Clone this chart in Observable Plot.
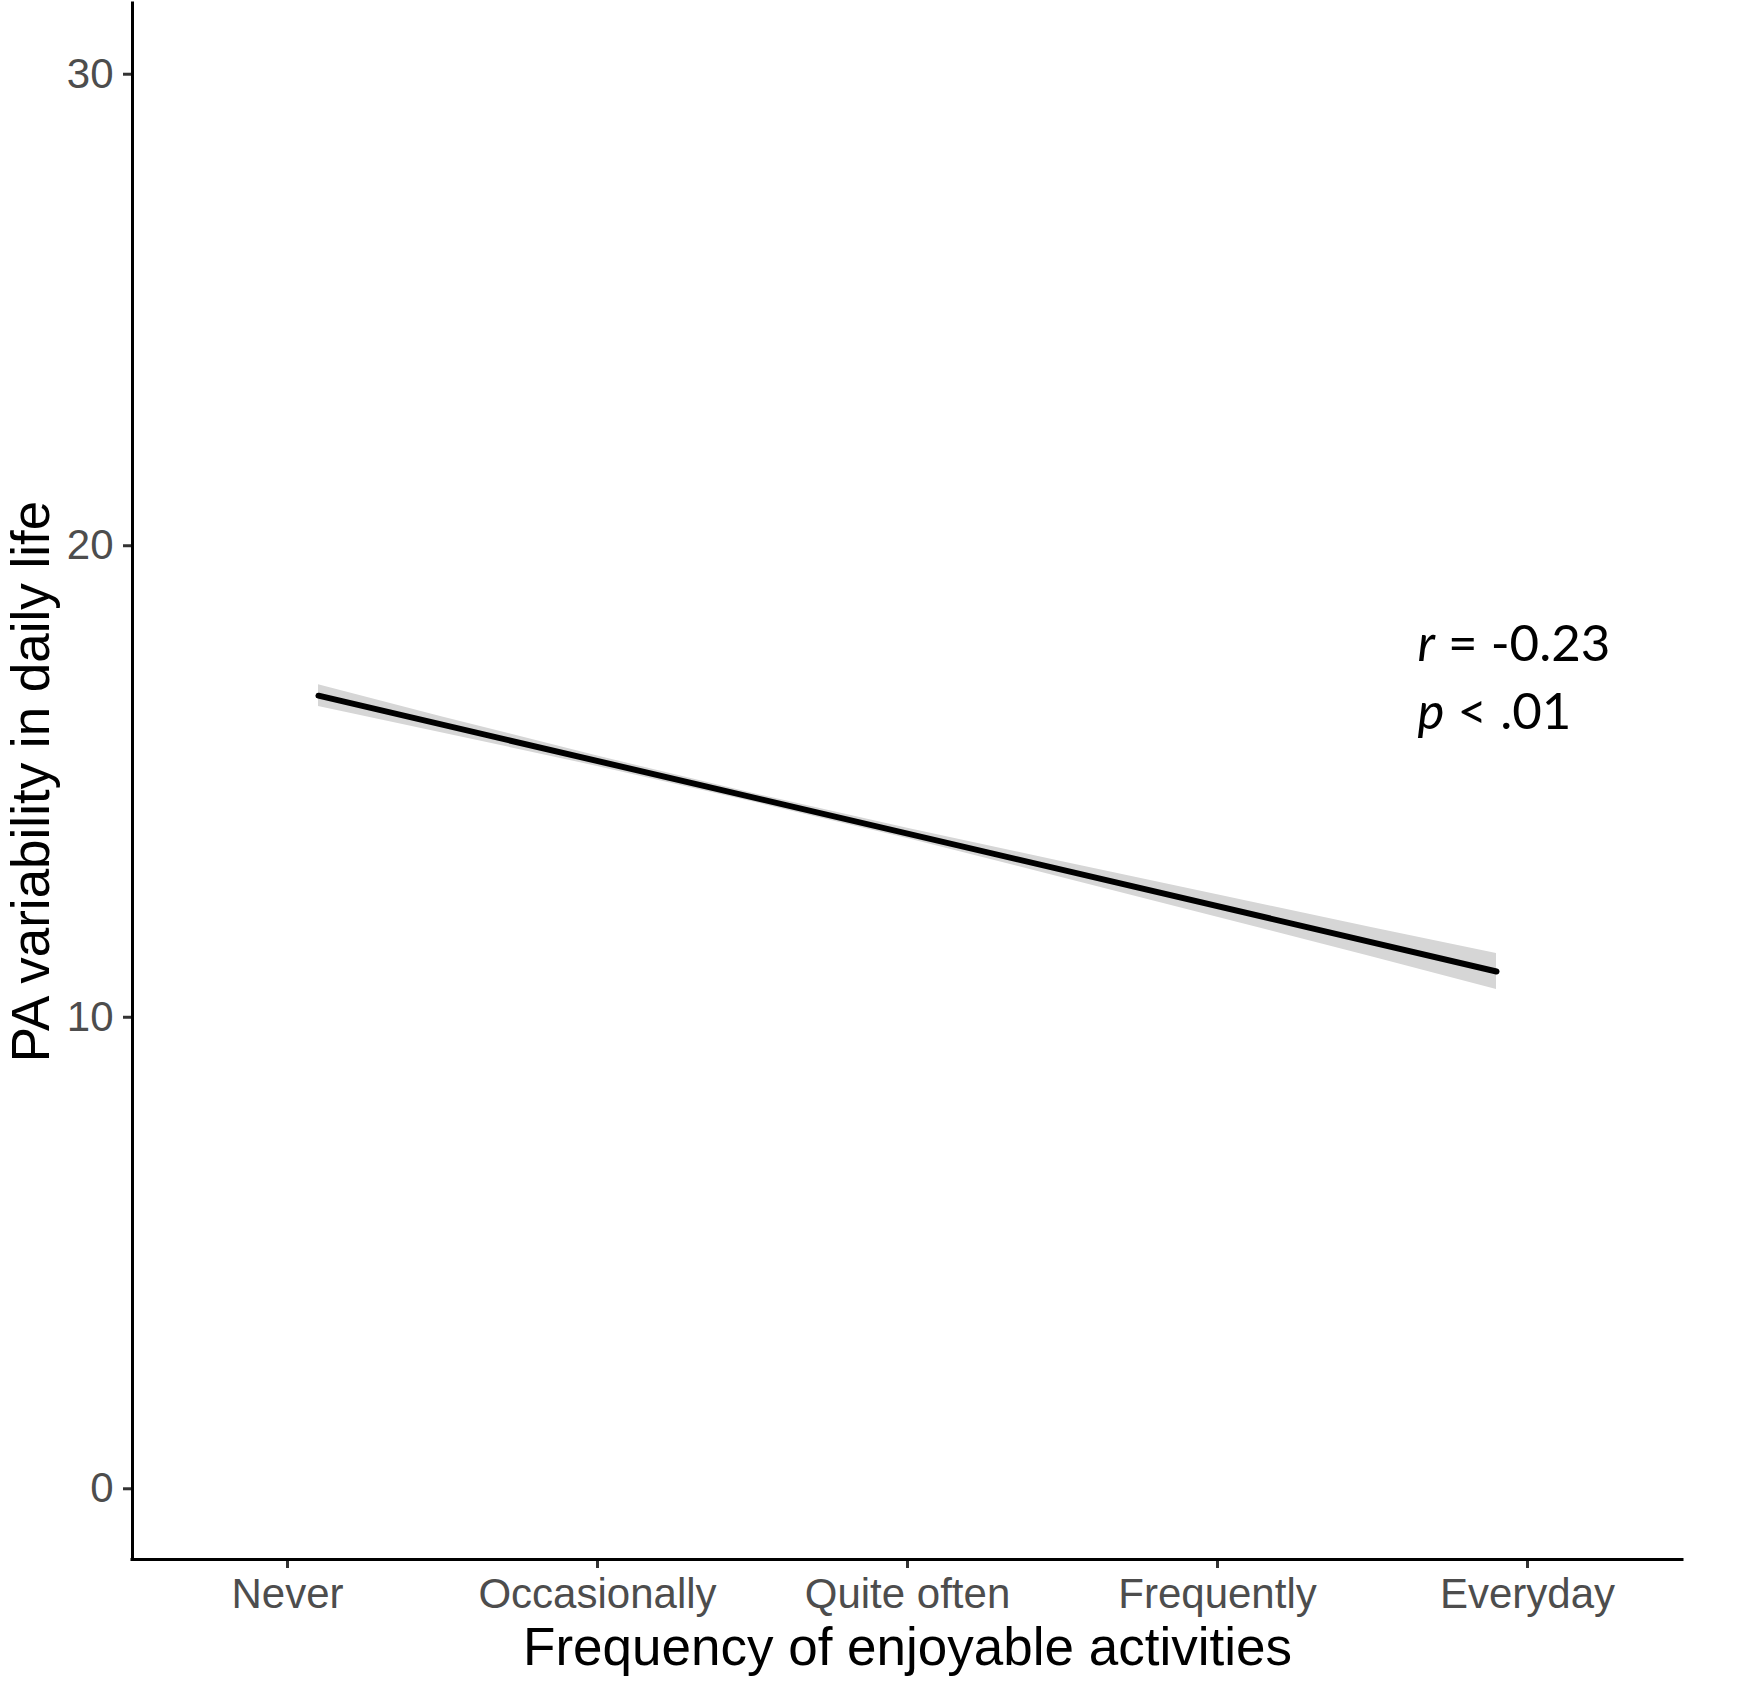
<!DOCTYPE html>
<html><head><meta charset="utf-8">
<script src="https://cdn.jsdelivr.net/npm/d3@7"></script>
<script src="https://cdn.jsdelivr.net/npm/@observablehq/plot@0.6"></script>
<style>body{margin:0;background:#fff} svg{display:block}</style>
</head><body><div id="chart"></div>
<script>
// categories on the x axis and their codes
const categories = ["Never", "Occasionally", "Quite often", "Frequently", "Everyday"];
const categoryCodes = [1, 2, 3, 4, 5];
// y axis ticks
const yTicks = [0, 10, 20, 30];
const xDomain = [0.5, 5.5];
const yDomain = [-1.5, 31.5];
// fitted regression line
const fitX = [1.1, 4.9];
const fitY = [16.82, 10.97];
// confidence band of the fit
const bandX = [1.1, 1.5, 2.0, 2.5, 3.0, 3.5, 4.0, 4.5, 4.9];
const bandLow = [16.59, 16.03, 15.32, 14.57, 13.79, 12.96, 12.12, 11.28, 10.59];
const bandHigh = [17.05, 16.37, 15.54, 14.75, 14.01, 13.30, 12.60, 11.90, 11.35];
// annotation text
const annotationLines = ["r = -0.23", "p < .01"];
const xTitle = "Frequency of enjoyable activities";
const yTitle = "PA variability in daily life";

const fitData = fitX.map((x, i) => ({x, y: fitY[i]}));
const bandData = bandX.map((x, i) => ({x, lo: bandLow[i], hi: bandHigh[i]}));

const svg = Plot.plot({
  width: 1745,
  height: 1688,
  marginLeft: 132,
  marginRight: 63,
  marginTop: 3,
  marginBottom: 129,
  style: {fontFamily: "'Liberation Sans', Arial, sans-serif", background: "white", overflow: "visible"},
  x: {type: "linear", domain: xDomain},
  y: {type: "linear", domain: yDomain},
  marks: [
    Plot.areaY(bandData, {x: "x", y1: "lo", y2: "hi", fill: "#d6d6d6"}),
    Plot.line(fitData, {x: "x", y: "y", stroke: "black", strokeWidth: 6}),
    Plot.axisY(yTicks, {tickSize: 9, tickPadding: 10, stroke: "#333333", strokeWidth: 3, fill: "#4d4d4d", fontSize: 42, label: null}),
    Plot.axisX(categoryCodes, {tickSize: 9, tickPadding: 10, stroke: "#333333", strokeWidth: 3, fill: "#4d4d4d", fontSize: 42, label: null,
      tickFormat: d => categories[categoryCodes.indexOf(d)]}),
    Plot.ruleX([xDomain[0]], {stroke: "black", strokeWidth: 3, strokeLinecap: "square"}),
    Plot.ruleY([yDomain[0]], {stroke: "black", strokeWidth: 3, strokeLinecap: "square"}),
    Plot.text([xTitle], {text: d => d, frameAnchor: "bottom", textAnchor: "middle", dy: 105, lineAnchor: "bottom", fontSize: 53, fill: "black"}),
    Plot.text([yTitle], {text: d => d, frameAnchor: "left", textAnchor: "middle", rotate: -90, dx: -84, lineAnchor: "bottom", fontSize: 53, fill: "black"}),
    Plot.text([annotationLines[0]], {text: d => d, frameAnchor: "top-left", textAnchor: "start", dx: 1285, dy: 657, lineAnchor: "bottom",
      fontSize: 51, fontFamily: "Lato", fill: "black"}),
    Plot.text([annotationLines[1]], {text: d => d, frameAnchor: "top-left", textAnchor: "start", dx: 1285, dy: 725, lineAnchor: "bottom",
      fontSize: 51, fontFamily: "Lato", fill: "black"})
  ]
});

// italicize the statistic symbol (first character) of each annotation line
d3.select(svg).selectAll("text").each(function () {
  const t = this.textContent;
  if (annotationLines.includes(t)) {
    const el = d3.select(this);
    el.text("");
    el.append("tspan").attr("font-style", "italic").text(t[0]);
    el.append("tspan").text(t.slice(1));
  }
});

document.getElementById("chart").appendChild(svg);
</script>
</body></html>
